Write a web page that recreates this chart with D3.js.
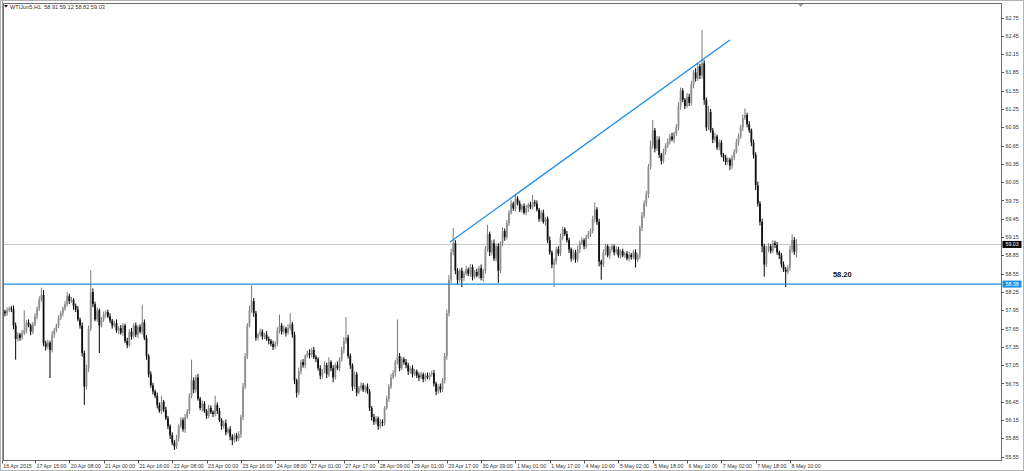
<!DOCTYPE html>
<html>
<head>
<meta charset="utf-8">
<script src="https://cdn.jsdelivr.net/npm/d3@7"></script>
<style>
  body { margin: 0; background: #fff; }
  svg { display: block; }
  text { font-family: "Liberation Sans", Arial, sans-serif; }
  .tick-label { font-size: 5.3px; fill: #333; }
</style>
</head>
<body>
<script>
// WTI Jun5, H1 bars (one per hour, weekends skipped)
const SYMBOL = "WTIJun5,H1";
const LAST_OHLC = [58.91, 59.12, 58.82, 59.03];
const OPEN_FIRST = 57.95;

// closes
const CLOSE = [
  57.93, 57.90, 57.95, 57.98, 57.97, 57.70, 57.48, 57.55, 57.50, 57.58,
  57.62, 57.75, 57.70, 57.60, 57.72, 57.85, 57.98, 58.12, 58.20, 57.41,
  57.35, 57.42, 57.30, 57.55, 57.62, 57.70, 57.82, 57.90, 57.98, 58.05,
  58.18, 58.10, 58.12, 58.02, 57.96, 57.80, 57.70, 57.25, 56.70, 57.00,
  57.65, 58.25, 58.05, 57.80, 57.95, 57.70, 57.80, 57.88, 57.92, 57.85,
  57.78, 57.70, 57.74, 57.62, 57.66, 57.58, 57.70, 57.45, 57.38, 57.60,
  57.52, 57.70, 57.55, 57.68, 57.60, 57.75, 57.50, 57.20, 56.90, 56.72,
  56.62, 56.55, 56.40, 56.30, 56.45, 56.32, 56.18, 56.05, 55.90, 55.78,
  55.72, 55.85, 56.05, 56.15, 56.00, 56.20, 56.30, 56.55, 56.80, 56.65,
  56.85, 56.50, 56.35, 56.42, 56.30, 56.22, 56.35, 56.28, 56.25, 56.40,
  56.30, 56.15, 56.05, 56.10, 55.95, 56.00, 55.88, 55.82, 55.90, 55.85,
  55.92, 56.20, 56.70, 57.20, 57.70, 57.95, 58.10, 57.90, 57.50, 57.55,
  57.60, 57.52, 57.55, 57.48, 57.45, 57.40, 57.35, 57.40, 57.62, 57.70,
  57.60, 57.65, 57.58, 57.66, 57.72, 57.55, 56.80, 56.60, 56.95, 57.10,
  57.05, 57.20, 57.25, 57.22, 57.30, 57.18, 57.15, 57.00, 56.88, 56.95,
  57.05, 56.90, 57.10, 57.00, 56.85, 57.05, 57.00, 57.15, 57.30, 57.45,
  57.50, 57.20, 57.05, 56.70, 56.90, 56.60, 56.68, 56.72, 56.65, 56.70,
  56.62, 56.35, 56.20, 56.12, 56.18, 56.05, 56.12, 56.10, 56.35, 56.50,
  56.70, 56.85, 56.92, 57.10, 57.20, 57.00, 57.15, 57.10, 57.05, 56.95,
  57.00, 56.90, 56.95, 56.88, 56.85, 56.90, 56.82, 56.88, 56.85, 56.90,
  56.92, 56.75, 56.62, 56.70, 56.65, 56.80, 57.20, 57.90, 58.45, 58.90,
  59.05, 58.60, 58.45, 58.60, 58.48, 58.55, 58.62, 58.55, 58.66, 58.50,
  58.58, 58.52, 58.64, 58.48, 58.60, 58.95, 59.20, 58.90, 59.05, 58.80,
  59.00, 58.60, 59.05, 59.25, 59.15, 59.38, 59.55, 59.70, 59.62, 59.78,
  59.70, 59.60, 59.66, 59.55, 59.62, 59.68, 59.64, 59.72, 59.70, 59.60,
  59.45, 59.55, 59.40, 59.45, 59.10, 58.90, 58.70, 58.75, 58.95, 58.88,
  59.15, 59.28, 59.20, 59.10, 58.95, 58.80, 58.90, 58.78, 58.95, 59.05,
  59.10, 59.00, 59.15, 59.20, 59.25, 59.45, 59.60, 59.40, 58.75, 58.70,
  58.90, 59.00, 58.85, 58.95, 59.00, 58.90, 58.95, 58.85, 58.92, 58.85,
  58.88, 58.80, 58.86, 58.82, 58.90, 58.78, 58.85, 59.30, 59.50, 59.70,
  59.85, 60.30, 60.65, 60.90, 60.60, 60.75, 60.50, 60.40, 60.55, 60.65,
  60.72, 60.80, 60.75, 60.85, 60.95, 61.30, 61.55, 61.40, 61.30, 61.45,
  61.35, 61.65, 61.85, 61.75, 61.95, 61.80, 62.00, 61.40, 60.95, 61.20,
  60.90, 60.75, 60.80, 60.62, 60.70, 60.50, 60.45, 60.38, 60.42, 60.32,
  60.45, 60.55, 60.70, 60.80, 60.95, 61.10, 61.15, 61.00, 60.90, 60.70,
  60.50, 60.00, 59.70, 59.40, 59.00, 58.70, 58.95, 59.00, 58.92, 59.05,
  59.02, 58.90, 58.85, 58.70, 58.62, 58.58, 58.65, 58.95, 59.10, 58.91,
  59.03
];

// upper / lower shadow of each bar beyond its body, in cents
const WICK_UP = [
  4, 3, 5, 3, 4, 6, 5, 4, 3, 5,   33, 4, 5, 3, 4, 5, 3, 6, 12, 8,
  4, 5, 3, 6, 4, 3, 5, 4, 3, 5,   7, 4, 5, 3, 4, 6, 3, 5, 4, 6,
  5, 36, 6, 4, 5, 3, 4, 5, 3, 4,  5, 3, 4, 6, 3, 5, 4, 3, 5, 4,
  6, 4, 5, 3, 4, 29, 5, 4, 3, 5,  4, 3, 5, 4, 10, 3, 5, 4, 3, 5,
  4, 6, 3, 5, 4, 5, 3, 4, 34, 5,  4, 6, 3, 5, 4, 3, 5, 4, 3, 15,
  4, 5, 3, 4, 6, 3, 5, 4, 3, 4,   5, 4, 6, 5, 4, 8, 26, 5, 4, 3,
  5, 4, 3, 6, 4, 3, 5, 4, 5, 18,  4, 5, 3, 6, 18, 4, 5, 3, 6, 4,
  5, 3, 4, 6, 3, 5, 4, 3, 5, 4,   6, 4, 8, 3, 5, 4, 6, 3, 5, 6,
  34, 5, 4, 3, 5, 4, 3, 5, 4, 3,  5, 4, 3, 5, 4, 3, 5, 4, 3, 5,
  4, 6, 5, 4, 60, 5, 4, 3, 5, 4,  3, 5, 4, 3, 5, 4, 3, 4, 5, 3,
  4, 5, 3, 4, 5, 4, 5, 6, 8, 6,   25, 5, 4, 3, 5, 4, 6, 3, 5, 4,
  3, 5, 4, 6, 3, 5, 15, 4, 5, 6,  4, 5, 3, 6, 4, 5, 4, 6, 3, 6,
  4, 5, 3, 4, 6, 3, 5, 12, 4, 5,  3, 4, 5, 3, 4, 6, 3, 5, 4, 5,
  6, 4, 3, 5, 4, 3, 5, 4, 6, 4,   5, 3, 4, 5, 4, 5, 12, 4, 5, 3,
  5, 4, 3, 5, 4, 3, 5, 4, 3, 4,   3, 4, 5, 3, 4, 5, 3, 4, 6, 5,
  6, 5, 8, 17, 4, 6, 5, 3, 5, 4,  5, 4, 6, 3, 5, 6, 5, 4, 3, 6,
  5, 6, 4, 7, 5, 4, 54, 5, 4, 10, 5, 4, 6, 3, 5, 4, 3, 5, 4, 3,
  5, 4, 6, 5, 4, 6, 11, 4, 5, 3,  5, 4, 6, 4, 5, 4, 6, 5, 4, 5,
  4, 5, 3, 4, 5, 4, 5, 6, 10, 5,  9
];
const WICK_DN = [
  3, 5, 4, 3, 5, 6, 34, 4, 5, 3,  4, 5, 3, 6, 4, 3, 5, 4, 3, 5,
  6, 4, 46, 4, 5, 3, 4, 3, 5, 4,  4, 5, 3, 6, 4, 3, 5, 6, 30, 5,
  6, 4, 5, 3, 4, 45, 3, 4, 5, 3,  4, 5, 3, 4, 6, 3, 5, 4, 5, 3,
  5, 3, 4, 6, 3, 5, 4, 6, 5, 4,   5, 4, 6, 3, 5, 4, 3, 5, 6, 4,
  6, 4, 5, 3, 4, 6, 3, 5, 4, 6,   5, 3, 4, 6, 3, 5, 4, 3, 5, 4,
  5, 3, 6, 4, 5, 3, 6, 8, 4, 5,   4, 6, 5, 4, 5, 3, 4, 6, 5, 4,
  3, 5, 4, 3, 6, 4, 5, 3, 4, 5,   5, 4, 6, 3, 4, 5, 6, 8, 4, 5,
  4, 5, 3, 6, 4, 3, 5, 4, 6, 5,   3, 6, 4, 5, 8, 4, 3, 5, 4, 6,
  5, 4, 6, 7, 4, 6, 3, 5, 4, 5,   4, 5, 6, 5, 4, 6, 4, 5, 4, 3,
  5, 4, 3, 6, 4, 5, 3, 4, 5, 6,   4, 5, 3, 4, 6, 3, 5, 4, 3, 5,
  4, 5, 6, 4, 5, 4, 5, 6, 5, 6,   5, 6, 8, 4, 15, 5, 3, 4, 5, 6,
  4, 3, 5, 4, 6, 5, 4, 6, 5, 4,   5, 20, 4, 5, 6, 4, 5, 3, 4, 5,
  3, 4, 5, 3, 4, 6, 3, 4, 5, 3,   5, 4, 3, 6, 5, 4, 6, 37, 5, 4,
  4, 5, 3, 4, 6, 5, 3, 5, 4, 6,   3, 5, 4, 3, 5, 4, 6, 5, 8, 25,
  4, 5, 3, 6, 4, 5, 3, 4, 5, 3,   4, 3, 5, 4, 3, 13, 4, 6, 5, 4,
  5, 6, 4, 5, 6, 4, 5, 6, 4, 5,   4, 5, 3, 6, 4, 5, 6, 4, 5, 3,
  5, 4, 6, 5, 4, 6, 5, 8, 6, 5,   4, 6, 5, 4, 5, 4, 6, 5, 4, 7,
  5, 4, 3, 5, 4, 6, 3, 5, 4, 6,   6, 8, 5, 6, 10, 20, 4, 5, 4, 3,
  5, 4, 6, 5, 4, 25, 4, 5, 6, 5,  9
];

const Y_TICKS = [62.75, 62.45, 62.15, 61.85, 61.55, 61.25, 60.95, 60.65, 60.35, 60.05,
                 59.75, 59.45, 59.15, 58.85, 58.55, 58.25, 57.95, 57.65, 57.35, 57.05,
                 56.75, 56.45, 56.15, 55.85, 55.55];
const X_LABELS = ["16 Apr 2015", "17 Apr 15:00", "20 Apr 08:00", "21 Apr 00:00", "21 Apr 16:00",
                  "22 Apr 08:00", "23 Apr 00:00", "23 Apr 16:00", "24 Apr 08:00", "27 Apr 01:00",
                  "27 Apr 17:00", "28 Apr 09:00", "29 Apr 01:00", "29 Apr 17:00", "30 Apr 09:00",
                  "1 May 01:00", "1 May 17:00", "4 May 10:00", "5 May 02:00", "5 May 18:00",
                  "6 May 10:00", "7 May 02:00", "7 May 18:00", "8 May 10:00"];
const X_LABEL_BARS = [-0.5, 15, 31, 47, 63, 79, 95, 111, 127, 143, 159, 175, 191, 207,
                      223, 239, 255, 271, 287, 303, 319, 335, 351, 367];

// drawn objects
const SUPPORT = 58.38;
const TREND = [[208.5, 59.07], [339, 62.38]];
const NOTE = { bar: 387, price: 58.49, text: "58.20" };

const width = 1024;
const height = 471;
const plot = { left: 3.5, right: 1001.5, top: 3.5, bottom: 460.5 };
const BLUE = "#1e8fe8";

const x = d3.scaleLinear().domain([0, 465]).range([2.8, 1000.2]);
const y = d3.scaleLinear().domain([55.55, 62.75]).range([456.7, 17.5]);

const bars = CLOSE.map((c, i) => {
  const o = i === 0 ? OPEN_FIRST : CLOSE[i - 1];
  return {
    i, o, c,
    h: Math.max(o, c) + WICK_UP[i] / 100,
    l: Math.min(o, c) - WICK_DN[i] / 100
  };
});

const svg = d3.select("body").append("svg")
  .attr("width", width)
  .attr("height", height);

svg.append("rect")
  .attr("width", width).attr("height", height)
  .attr("fill", "#fff");

// window border
svg.append("rect")
  .attr("x", 0.5).attr("y", 0.5)
  .attr("width", width - 1).attr("height", height - 1)
  .attr("fill", "none").attr("stroke", "#b4b4b4");

svg.append("clipPath").attr("id", "plot-clip")
  .append("rect")
  .attr("x", plot.left).attr("y", plot.top)
  .attr("width", plot.right - plot.left).attr("height", plot.bottom - plot.top);

const g = svg.append("g").attr("clip-path", "url(#plot-clip)");

// current price line
g.append("line")
  .attr("x1", plot.left).attr("x2", plot.right)
  .attr("y1", Math.round(y(LAST_OHLC[3])) + 0.5).attr("y2", Math.round(y(LAST_OHLC[3])) + 0.5)
  .attr("stroke", "#c8c8c8").attr("stroke-width", 1);

// candles
const candles = g.append("g").attr("class", "candles");
candles.selectAll("line")
  .data(bars)
  .enter()
  .append("line")
  .attr("x1", d => x(d.i)).attr("x2", d => x(d.i))
  .attr("y1", d => y(d.h)).attr("y2", d => y(d.l))
  .attr("stroke", d => d.c >= d.o ? "#7a7a7a" : "#000")
  .attr("stroke-width", 1);

candles.selectAll("rect")
  .data(bars)
  .enter()
  .append("rect")
  .attr("x", d => x(d.i) - 0.9)
  .attr("width", 1.8)
  .attr("y", d => y(Math.max(d.o, d.c)))
  .attr("height", d => Math.max(0.8, Math.abs(y(d.o) - y(d.c))))
  .attr("fill", d => d.c >= d.o ? "#8e8e8e" : "#111");

// support line and trend line
g.append("line")
  .attr("x1", plot.left).attr("x2", plot.right)
  .attr("y1", y(SUPPORT)).attr("y2", y(SUPPORT))
  .attr("stroke", BLUE).attr("stroke-width", 1.2);

g.append("line")
  .attr("x1", x(TREND[0][0])).attr("y1", y(TREND[0][1]))
  .attr("x2", x(TREND[1][0])).attr("y2", y(TREND[1][1]))
  .attr("stroke", BLUE).attr("stroke-width", 1.3);

g.append("text")
  .attr("x", x(NOTE.bar)).attr("y", y(NOTE.price))
  .attr("font-size", "7.5px").attr("font-weight", "bold")
  .attr("fill", "#111")
  .text(NOTE.text);

// frame
svg.append("rect")
  .attr("x", plot.left).attr("y", plot.top)
  .attr("width", plot.right - plot.left).attr("height", plot.bottom - plot.top)
  .attr("fill", "none").attr("stroke", "#6e6e6e");
svg.append("line")
  .attr("x1", 2.5).attr("x2", 2.5).attr("y1", 1).attr("y2", plot.bottom)
  .attr("stroke", "#9a9a9a");

// shift marker
svg.append("path")
  .attr("d", `M${x(372) - 2.5},${plot.top + 0.5}h5l-2.5,3z`)
  .attr("fill", "#9a9a9a");

// price axis
const yAxis = svg.append("g").attr("class", "y-axis");
yAxis.selectAll("line")
  .data(Y_TICKS)
  .enter()
  .append("line")
  .attr("x1", plot.right).attr("x2", plot.right + 2.5)
  .attr("y1", d => Math.round(y(d)) + 0.5).attr("y2", d => Math.round(y(d)) + 0.5)
  .attr("stroke", "#555");
yAxis.selectAll("text")
  .data(Y_TICKS)
  .enter()
  .append("text")
  .attr("class", "tick-label")
  .attr("x", plot.right + 4)
  .attr("y", d => y(d) + 2)
  .text(d => d.toFixed(2));

// price tags on the axis
const tags = [
  { price: LAST_OHLC[3], bg: "#000" },
  { price: SUPPORT, bg: BLUE }
];
tags.forEach(t => {
  svg.append("rect")
    .attr("x", plot.right + 1).attr("y", y(t.price) - 3.5)
    .attr("width", 19).attr("height", 7)
    .attr("fill", t.bg);
  svg.append("text")
    .attr("class", "tick-label")
    .attr("x", plot.right + 4).attr("y", y(t.price) + 2)
    .style("fill", "#fff")
    .text(t.price.toFixed(2));
});

// time axis
const xAxis = svg.append("g").attr("class", "x-axis");
xAxis.selectAll("line")
  .data(X_LABEL_BARS)
  .enter()
  .append("line")
  .attr("x1", d => Math.round(x(d)) + 0.5).attr("x2", d => Math.round(x(d)) + 0.5)
  .attr("y1", plot.bottom).attr("y2", plot.bottom + 3)
  .attr("stroke", "#555");
xAxis.selectAll("text")
  .data(X_LABEL_BARS)
  .enter()
  .append("text")
  .attr("class", "tick-label")
  .attr("x", d => x(d) + 1.5)
  .attr("y", 467.5)
  .text((_, i) => X_LABELS[i]);

// title
svg.append("path")
  .attr("d", "M4,5h4l-2,2.5z")
  .attr("fill", "#000");
svg.append("text")
  .attr("class", "tick-label")
  .attr("x", 10).attr("y", 8.5)
  .style("font-size", "5.6px")
  .attr("xml:space", "preserve")
  .text(`${SYMBOL}  ${LAST_OHLC.map(v => v.toFixed(2)).join(" ")}`);
</script>
</body>
</html>
